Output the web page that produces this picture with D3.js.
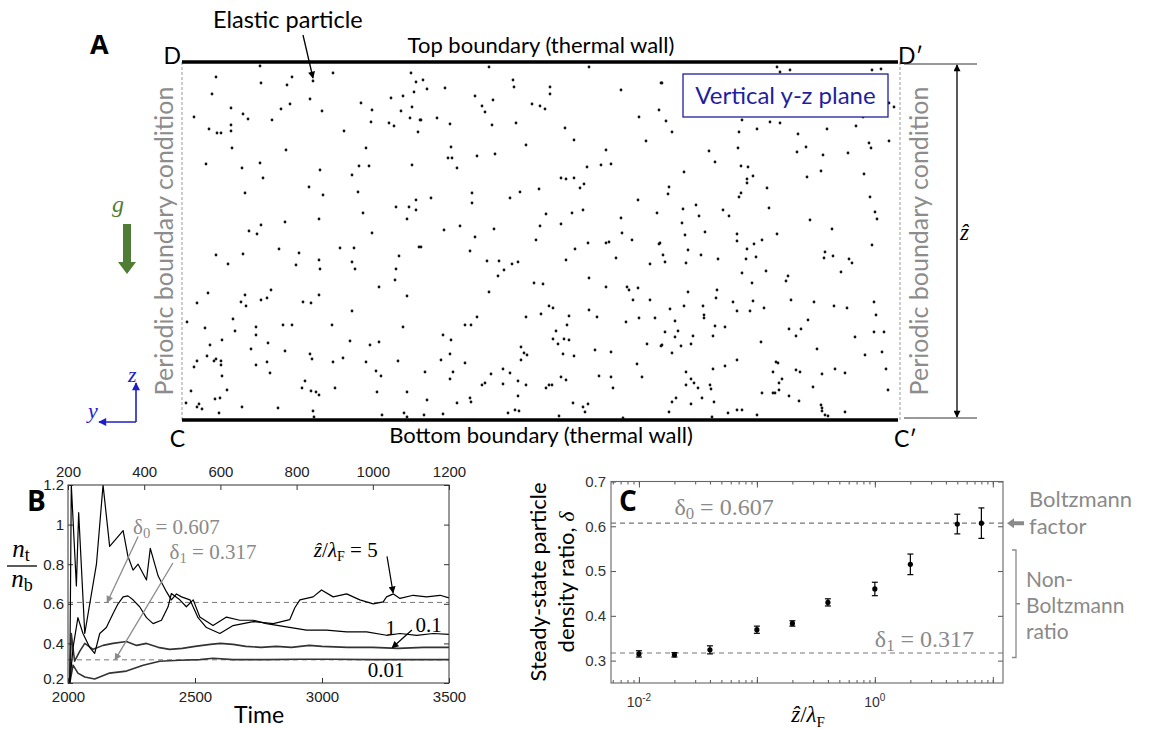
<!DOCTYPE html>
<html>
<head>
<meta charset="utf-8">
<script src="https://cdn.jsdelivr.net/npm/d3@7"></script>
<style>
  body { margin: 0; background: #fff; }
  text { font-family: Lato, "Open Sans", sans-serif; }
  .mtx { font-family: "Liberation Serif", "DejaVu Serif", serif; }
  .tick text { font-family: "Liberation Sans", Arial, sans-serif; }
</style>
</head>
<body>
<svg id="fig" width="1151" height="729"></svg>
<script>
// ---------------- data ----------------

// panel A: particle positions in the y-z box (box is 718 x 358 lattice units)
var particles = [
  [78,354],[34,343],[110,343],[79,337],[105,335],[131,339],[151,347],[229,347],[234,338],[232,328],
  [30,326],[221,324],[209,322],[128,321],[108,316],[99,311],[49,312],[61,306],[66,301],[90,300],
  [140,309],[179,317],[190,310],[189,298],[207,297],[212,294],[219,309],[230,313],[228,302],[238,300],
  [12,303],[27,291],[35,287],[39,287],[49,295],[49,289],[162,289],[236,288],[50,272],[104,270],
  [184,272],[24,256],[60,252],[78,257],[81,242],[138,250],[170,245],[177,254],[187,254],[230,255],
  [127,233],[141,225],[176,228],[63,227],[181,207],[214,213],[227,213],[234,210],[234,220],[225,201],
  [137,201],[103,198],[79,195],[67,189],[75,186],[190,187],[237,173],[34,165],[61,166],[46,156],
  [97,171],[117,167],[114,155],[137,160],[138,151],[158,172],[172,172],[170,158],[173,151],[217,164],
  [214,151],[213,140],[197,133],[225,124],[26,127],[15,117],[63,125],[59,118],[64,114],[79,120],
  [85,122],[89,130],[121,118],[129,117],[137,125],[170,109],[51,101],[53,89],[23,92],[5,98],
  [74,93],[74,85],[101,95],[110,95],[150,95],[221,93],[40,80],[28,75],[86,77],[69,71],
  [103,69],[168,79],[188,75],[197,78],[25,64],[15,59],[12,53],[32,59],[34,61],[39,59],
  [39,55],[74,55],[85,58],[88,47],[128,66],[130,61],[151,58],[161,62],[184,58],[216,59],
  [194,49],[199,44],[40,44],[9,29],[45,30],[33,21],[38,22],[17,16],[15,13],[20,11],
  [4,17],[37,7],[60,13],[96,12],[123,39],[120,32],[129,29],[134,28],[137,25],[153,32],
  [195,28],[225,28],[131,9],[132,3],[200,5],[222,7],[225,3],
  [307,353],[407,353],[241,340],[245,331],[263,332],[331,340],[332,333],[368,333],[368,326],[439,330],
  [479,337],[293,324],[300,314],[303,308],[311,320],[350,316],[358,314],[363,311],[477,310],[457,303],
  [239,300],[255,302],[268,296],[310,295],[334,297],[383,292],[392,280],[464,279],[344,275],[269,273],
  [266,262],[270,262],[275,252],[295,264],[313,266],[424,270],[419,255],[429,256],[405,253],[379,242],
  [384,241],[392,242],[398,232],[402,236],[357,231],[249,222],[290,227],[290,217],[328,222],[338,228],
  [456,220],[475,207],[364,206],[390,207],[401,210],[379,196],[358,194],[439,202],[440,187],[278,194],
  [262,190],[312,191],[293,183],[354,180],[450,180],[477,176],[406,177],[424,177],[427,178],[393,171],
  [288,169],[239,173],[384,160],[434,162],[305,159],[317,159],[322,150],[330,156],[336,158],[316,144],
  [468,156],[407,142],[352,137],[361,136],[307,128],[424,133],[445,133],[447,130],[456,132],[451,120],
  [468,120],[367,114],[371,112],[295,103],[283,95],[289,95],[344,103],[359,106],[387,104],[407,110],
  [415,103],[385,95],[444,98],[457,102],[473,102],[261,85],[269,80],[268,66],[374,89],[371,81],
  [382,81],[387,80],[376,76],[339,73],[342,67],[345,65],[339,60],[381,66],[392,64],[413,70],
  [429,68],[465,76],[479,74],[259,60],[283,57],[243,48],[271,48],[268,41],[309,46],[321,51],
  [328,47],[336,39],[300,35],[303,37],[321,36],[344,35],[364,32],[367,35],[370,35],[379,43],
  [384,40],[417,44],[429,43],[431,32],[455,56],[460,43],[245,20],[275,17],[288,22],[289,18],
  [336,24],[326,7],[333,10],[337,9],[261,6],[242,5],[377,4],[391,17],[401,13],[406,16],
  [403,8],[441,2],
  [595,353],[598,348],[608,350],[690,350],[699,351],[707,317],[712,313],[480,337],[484,299],[490,288],
  [560,300],[588,298],[598,297],[557,288],[575,291],[616,286],[645,291],[674,294],[681,303],[707,279],
  [687,277],[689,272],[527,269],[533,258],[556,272],[615,268],[624,273],[641,265],[666,267],[502,248],
  [559,254],[566,253],[571,244],[565,241],[565,237],[625,243],[639,249],[682,246],[487,233],[486,226],
  [585,232],[557,223],[559,227],[688,223],[514,215],[501,211],[517,204],[541,210],[547,204],[587,212],
  [628,200],[693,208],[695,201],[500,197],[503,185],[523,188],[555,186],[555,179],[580,180],[595,186],
  [650,191],[478,177],[481,165],[483,158],[506,170],[519,165],[504,157],[536,161],[565,171],[572,176],
  [574,163],[564,161],[643,168],[642,162],[651,164],[667,161],[670,157],[690,175],[560,147],[584,149],
  [606,144],[604,139],[659,148],[570,137],[506,128],[535,130],[534,122],[502,114],[521,114],[522,105],
  [522,102],[551,118],[555,109],[568,109],[571,119],[582,112],[609,120],[632,118],[652,114],[665,112],
  [692,118],[694,105],[488,111],[493,99],[483,88],[493,83],[496,89],[511,84],[533,94],[543,93],
  [531,84],[480,75],[490,67],[499,74],[509,76],[579,78],[607,91],[619,91],[614,84],[626,100],
  [635,71],[673,83],[692,88],[702,88],[700,68],[683,65],[504,48],[509,41],[512,37],[504,35],
  [516,32],[528,35],[529,31],[520,22],[531,51],[543,54],[555,60],[532,18],[494,22],[490,18],
  [509,16],[487,8],[530,3],[546,7],[555,10],[560,10],[575,5],[580,27],[591,27],[593,27],
  [591,48],[594,58],[596,57],[600,41],[597,37],[597,30],[607,24],[617,19],[614,50],[618,48],
  [631,33],[640,46],[653,51],[663,47],[639,15],[640,12],[640,9],[643,5],[646,4],[663,8],
  [706,30],[704,51]
];

// panel B: density ratio n_t/n_b vs time, one series per z/lambda_F
var ratio5 = [
  [2007,0.20],[2013,1.20],[2033,0.69],[2042,1.06],[2066,0.45],[2112,0.80],[2138,1.20],[2164,0.89],
  [2217,0.97],[2236,0.84],[2256,0.77],[2276,0.80],[2309,0.72],[2324,0.88],[2355,0.74],[2388,0.66],
  [2407,0.62],[2427,0.65],[2447,0.635],[2480,0.62],[2512,0.53],[2545,0.48],[2598,0.45],[2650,0.49],
  [2729,0.51],[2808,0.50],[2873,0.52],[2893,0.58],[2913,0.62],[2965,0.635],[2998,0.67],[3044,0.635],
  [3097,0.65],[3149,0.62],[3202,0.60],[3241,0.61],[3254,0.635],[3281,0.65],[3307,0.627],[3359,0.643],
  [3412,0.635],[3465,0.643],[3500,0.63]
];
var ratio1 = [
  [2007,0.20],[2020,0.38],[2039,0.53],[2059,0.45],[2085,0.38],[2105,0.35],[2125,0.45],[2151,0.48],
  [2177,0.55],[2197,0.60],[2217,0.635],[2236,0.64],[2256,0.62],[2282,0.585],[2309,0.53],[2335,0.50],
  [2368,0.517],[2394,0.585],[2407,0.652],[2440,0.62],[2466,0.585],[2493,0.62],[2519,0.533],[2571,0.49],
  [2624,0.533],[2676,0.517],[2729,0.517],[2781,0.50],[2860,0.483],[2939,0.467],[3018,0.467],[3097,0.458],
  [3176,0.458],[3254,0.441],[3307,0.45],[3373,0.441],[3438,0.45],[3500,0.446]
];
var ratio01 = [
  [2007,0.20],[2013,0.45],[2026,0.31],[2046,0.36],[2066,0.40],[2099,0.37],[2138,0.39],[2177,0.40],
  [2230,0.41],[2270,0.39],[2309,0.40],[2355,0.38],[2400,0.37],[2450,0.375],[2500,0.385],[2560,0.395],
  [2600,0.40],[2650,0.395],[2700,0.385],[2760,0.38],[2820,0.385],[2880,0.38],[2950,0.39],[3000,0.385],
  [3100,0.38],[3200,0.38],[3300,0.375],[3400,0.38],[3500,0.38]
];
var ratio001 = [
  [2007,0.20],[2020,0.29],[2039,0.25],[2066,0.23],[2105,0.22],[2164,0.25],[2230,0.26],[2296,0.29],
  [2361,0.31],[2440,0.315],[2519,0.318],[2571,0.325],[2650,0.318],[2781,0.318],[2913,0.32],[3044,0.32],
  [3200,0.318],[3350,0.318],[3500,0.318]
];
var timeTicks = [2000, 2500, 3000, 3500];
var topTicks = [200, 400, 600, 800, 1000, 1200];
var ratioTicks = [0.2, 0.4, 0.6, 0.8, 1, 1.2];

// reference ratios
var delta0 = 0.607, delta1 = 0.317;

// panel C: steady-state ratio vs z/lambda_F
var zOverLambda = [0.01, 0.02, 0.04, 0.1, 0.2, 0.4, 1, 2, 5, 8];
var deltaMean   = [0.315, 0.313, 0.324, 0.369, 0.383, 0.43, 0.46, 0.515, 0.605, 0.607];
var deltaErr    = [0.007, 0.005, 0.009, 0.008, 0.006, 0.008, 0.015, 0.023, 0.022, 0.034];
var deltaTicks  = [0.3, 0.4, 0.5, 0.6, 0.7];

// ---------------- drawing ----------------
var svg = d3.select("#fig");
var defs = svg.append("defs");

function marker(id, color, w, h) {
  defs.append("marker").attr("id", id)
    .attr("viewBox", "0 0 10 10").attr("refX", 9).attr("refY", 5)
    .attr("markerWidth", w).attr("markerHeight", h).attr("orient", "auto-start-reverse")
    .attr("markerUnits", "userSpaceOnUse")
    .append("path").attr("d", "M0,0L10,5L0,10z").attr("fill", color);
}
marker("ahBlack", "#000", 9, 7);
marker("ahGray", "#8a8a8a", 9, 7);
marker("ahBlue", "#1e1ec8", 9, 8);

function arrow(g, x1, y1, x2, y2, color, mk, w) {
  return g.append("line").attr("x1", x1).attr("y1", y1).attr("x2", x2).attr("y2", y2)
    .attr("stroke", color).attr("stroke-width", w || 1.2).attr("marker-end", "url(#" + mk + ")");
}

// ===== panel A =====
var gA = svg.append("g");
var xA = d3.scaleLinear().domain([0, 718]).range([182, 900]);
var zA = d3.scaleLinear().domain([0, 358]).range([420, 62]);

// periodic (dashed) side walls
[0, 718].forEach(function (v) {
  gA.append("line").attr("x1", xA(v)).attr("x2", xA(v)).attr("y1", zA(358)).attr("y2", zA(0))
    .attr("stroke", "#9a9a9a").attr("stroke-width", 1).attr("stroke-dasharray", "3,2");
});
// thermal walls
[0, 358].forEach(function (v) {
  gA.append("line").attr("x1", xA(0)).attr("x2", xA(716)).attr("y1", zA(v)).attr("y2", zA(v))
    .attr("stroke", "#000").attr("stroke-width", 3.5);
});

gA.selectAll("circle.p").data(particles).enter().append("circle")
  .attr("class", "p")
  .attr("cx", function (d) { return xA(d[0]); })
  .attr("cy", function (d) { return zA(d[1]); })
  .attr("r", 1.4).attr("fill", "#111");

// labels
gA.append("text").attr("x", 90).attr("y", 54).text("A")
  .style("font-weight", 700).style("font-size", "27px").style("font-family", "'Open Sans', sans-serif");
gA.append("text").attr("x", (xA(0) + xA(718)) / 2).attr("y", 53).attr("text-anchor", "middle")
  .style("font-size", "22px").text("Top boundary (thermal wall)");
gA.append("text").attr("x", (xA(0) + xA(718)) / 2).attr("y", 443).attr("text-anchor", "middle")
  .style("font-size", "22px").text("Bottom boundary (thermal wall)");
gA.append("text").attr("x", xA(0) - 1).attr("y", zA(358) + 2).attr("text-anchor", "end")
  .style("font-size", "23px").text("D");
gA.append("text").attr("x", xA(716)).attr("y", zA(358) + 2)
  .style("font-size", "23px").text("D\u2032");
gA.append("text").attr("x", xA(0) + 3).attr("y", zA(0) + 27).attr("text-anchor", "end")
  .style("font-size", "23px").text("C");
gA.append("text").attr("x", xA(712)).attr("y", zA(0) + 27)
  .style("font-size", "23px").text("C\u2032");

gA.append("text").attr("x", 213).attr("y", 28).style("font-size", "23.5px").text("Elastic particle");
arrow(gA, xA(121), zA(385), xA(131), zA(342), "#000", "ahBlack", 1.3);

// "Vertical y-z plane" box
gA.append("rect").attr("x", 683).attr("y", 74).attr("width", 205).attr("height", 43)
  .attr("fill", "#fff").attr("stroke", "#1f1f9e").attr("stroke-width", 1.3);
gA.append("text").attr("x", 785.5).attr("y", 104).attr("text-anchor", "middle")
  .style("font-size", "24px").style("fill", "#1f1f9e").text("Vertical y-z plane");

// rotated periodic boundary labels
[[173, 241], [928, 241]].forEach(function (p) {
  gA.append("text").attr("transform", "translate(" + p[0] + "," + p[1] + ") rotate(-90)")
    .attr("text-anchor", "middle").style("font-size", "25px").style("fill", "#8c8c8c")
    .text("Periodic boundary condition");
});

// z-hat dimension
[0, 358].forEach(function (v) {
  gA.append("line").attr("x1", 904).attr("x2", 977).attr("y1", zA(v) + (v ? 2 : -2)).attr("y2", zA(v) + (v ? 2 : -2))
    .attr("stroke", "#333").attr("stroke-width", 1);
});
gA.append("line").attr("x1", 957).attr("x2", 957).attr("y1", zA(356) + 1).attr("y2", zA(2) - 1)
  .attr("stroke", "#000").attr("stroke-width", 1.3)
  .attr("marker-start", "url(#ahBlack)").attr("marker-end", "url(#ahBlack)");
gA.append("text").attr("class", "mtx").attr("x", 960).attr("y", 240)
  .style("font-size", "23px").style("font-style", "italic").text("\u1E91");

// gravity arrow
gA.append("path").attr("d", "M123,224 L131,224 L131,262 L136,262 L127,274 L118,262 L123,262 Z")
  .attr("fill", "#4f7d35");
gA.append("text").attr("class", "mtx").attr("x", 112).attr("y", 212)
  .style("font-size", "24px").style("font-style", "italic").style("fill", "#4f7d35").text("g");

// y-z triad
arrow(gA, 136, 422, 136, 383, "#1e1ec8", "ahBlue", 1.6);
arrow(gA, 136, 422, 99, 422, "#1e1ec8", "ahBlue", 1.6);
gA.append("text").attr("class", "mtx").attr("x", 128).attr("y", 382)
  .style("font-size", "22px").style("font-style", "italic").style("fill", "#1e1ec8").text("z");
gA.append("text").attr("class", "mtx").attr("x", 88).attr("y", 418)
  .style("font-size", "22px").style("font-style", "italic").style("fill", "#1e1ec8").text("y");

// ===== panel B =====
var gB = svg.append("g");
var xB = d3.scaleLinear().domain([2000, 3500]).range([68, 449]);
var xBt = d3.scaleLinear().domain([200, 1200]).range([68, 449]);
var yB = d3.scaleLinear().domain([0.2, 1.2]).range([683, 485]);

defs.append("clipPath").attr("id", "clipB").append("rect")
  .attr("x", 68).attr("y", 485).attr("width", 381).attr("height", 198);

function styleAxis(g) {
  g.select(".domain").remove();
  g.selectAll(".tick line").attr("stroke", "#333");
  g.selectAll(".tick text").style("font-size", "15px").attr("fill", "#222");
}
gB.append("g").attr("transform", "translate(0,683)")
  .call(d3.axisBottom(xB).tickValues(timeTicks).tickSize(-5).tickPadding(8).tickFormat(d3.format("d"))).call(styleAxis);
gB.append("g").attr("transform", "translate(0,485)")
  .call(d3.axisTop(xBt).tickValues(topTicks).tickSize(-5).tickPadding(8).tickFormat(d3.format("d"))).call(styleAxis);
var yAxisB = gB.append("g").attr("transform", "translate(68,0)")
  .call(d3.axisLeft(yB).tickValues(ratioTicks).tickSize(-5).tickPadding(4)
    .tickFormat(function (d) { return d3.format("")(d); })).call(styleAxis);
// lift the lowest label a little so it clears the 2000 label
yAxisB.selectAll(".tick").filter(function (d) { return d === 0.2; }).select("text").attr("dy", "0.05em");
gB.append("g").attr("transform", "translate(449,0)")
  .call(d3.axisRight(yB).tickValues(ratioTicks).tickSize(-5).tickFormat("")).call(styleAxis);

// reference dashed lines
[delta0, delta1].forEach(function (v) {
  gB.append("line").attr("x1", xB(2000)).attr("x2", xB(3500)).attr("y1", yB(v)).attr("y2", yB(v))
    .attr("stroke", "#777").attr("stroke-width", 1).attr("stroke-dasharray", "5,4");
});

var lineB = d3.line().x(function (d) { return xB(d[0]); }).y(function (d) { return yB(d[1]); });
var seriesB = [
  { data: ratio001, color: "#333", w: 1.6 },
  { data: ratio01, color: "#333", w: 1.6 },
  { data: ratio1, color: "#000", w: 1.2 },
  { data: ratio5, color: "#000", w: 1.2 }
];
gB.append("g").attr("clip-path", "url(#clipB)").selectAll("path").data(seriesB).enter()
  .append("path").attr("d", function (d) { return lineB(d.data); })
  .attr("fill", "none").attr("stroke", function (d) { return d.color; })
  .attr("stroke-width", function (d) { return d.w; }).attr("stroke-linejoin", "round");

gB.append("rect").attr("x", 68).attr("y", 485).attr("width", 381).attr("height", 198)
  .attr("fill", "none").attr("stroke", "#333").attr("stroke-width", 1);

gB.append("text").attr("x", 27).attr("y", 511).text("B")
  .style("font-weight", 700).style("font-size", "28px").style("font-family", "'Open Sans', sans-serif");
gB.append("text").attr("x", 259).attr("y", 723).attr("text-anchor", "middle")
  .style("font-size", "23px").text("Time");

// n_t / n_b
var frac = gB.append("g").attr("class", "mtx");
var nt = frac.append("text").attr("class", "mtx").attr("x", 21).attr("y", 557).attr("text-anchor", "middle").style("font-size", "25px");
nt.append("tspan").style("font-style", "italic").text("n");
nt.append("tspan").attr("dy", 4).style("font-size", "18px").text("t");
frac.append("line").attr("x1", 7).attr("x2", 37).attr("y1", 566).attr("y2", 566).attr("stroke", "#000").attr("stroke-width", 1.3);
var nb = frac.append("text").attr("class", "mtx").attr("x", 22).attr("y", 587).attr("text-anchor", "middle").style("font-size", "25px");
nb.append("tspan").style("font-style", "italic").text("n");
nb.append("tspan").attr("dy", 4).style("font-size", "18px").text("b");

function deltaLabel(g, x, y, sub, val, size, anchor) {
  var t = g.append("text").attr("class", "mtx").attr("x", x).attr("y", y)
    .attr("text-anchor", anchor || "start").style("font-size", size + "px").style("fill", "#8a8a8a");
  t.append("tspan").text("\u03B4");
  t.append("tspan").attr("dy", 4).style("font-size", (size * 0.7) + "px").text(sub);
  t.append("tspan").attr("dy", -4).text(" = " + val);
  return t;
}
deltaLabel(gB, xB(2256), yB(0.955), "0", "0.607", 21);
deltaLabel(gB, xB(2400), yB(0.825), "1", "0.317", 21);
arrow(gB, xB(2276), yB(0.94), xB(2154), yB(delta0), "#8a8a8a", "ahGray", 1.3);
arrow(gB, xB(2413), yB(0.806), xB(2185), yB(delta1), "#8a8a8a", "ahGray", 1.3);

var lab5 = gB.append("text").attr("class", "mtx").attr("x", xB(2968)).attr("y", yB(0.835)).style("font-size", "21px");
lab5.append("tspan").style("font-style", "italic").text("\u1E91");
lab5.append("tspan").text("/");
lab5.append("tspan").style("font-style", "italic").text("\u03BB");
lab5.append("tspan").attr("dy", 4).style("font-size", "14px").text("F");
lab5.append("tspan").attr("dy", -4).text(" = 5");
arrow(gB, xB(3256), yB(0.84), xB(3280), yB(0.655), "#000", "ahBlack", 1.2);
gB.append("text").attr("class", "mtx").attr("x", xB(3250)).attr("y", yB(0.44)).style("font-size", "21px").text("1");
gB.append("text").attr("class", "mtx").attr("x", xB(3368)).attr("y", yB(0.46)).style("font-size", "21px").text("0.1");
arrow(gB, xB(3354), yB(0.468), xB(3276), yB(0.378), "#000", "ahBlack", 1.2);
gB.append("text").attr("class", "mtx").attr("x", xB(3180)).attr("y", yB(0.23)).style("font-size", "21px").text("0.01");

// ===== panel C =====
var gC = svg.append("g");
var xC = d3.scaleLog().domain([0.0058, 12.2]).range([611, 1003]);
var yC = d3.scaleLinear().domain([0.25, 0.7]).range([683, 481.5]);

var minorC = [];
[0.001, 0.01, 0.1, 1, 10].forEach(function (dec) {
  for (var k = 1; k < 10; k++) {
    var v = dec * k;
    if (v >= 0.0058 && v <= 12.2) minorC.push(v);
  }
});
var majorC = [0.01, 0.1, 1, 10];

function styleC(g) {
  g.select(".domain").remove();
  g.selectAll(".tick line").attr("stroke", "#555");
  g.selectAll(".tick text").style("font-size", "15px").attr("fill", "#333");
}
gC.append("g").attr("transform", "translate(0,683)")
  .call(d3.axisBottom(xC).tickValues(minorC).tickSize(-3).tickFormat("")).call(styleC);
gC.append("g").attr("transform", "translate(0,481.5)")
  .call(d3.axisTop(xC).tickValues(minorC).tickSize(-3).tickFormat("")).call(styleC);
gC.append("g").attr("transform", "translate(0,683)")
  .call(d3.axisBottom(xC).tickValues(majorC).tickSize(-6).tickFormat("")).call(styleC);
gC.append("g").attr("transform", "translate(0,481.5)")
  .call(d3.axisTop(xC).tickValues(majorC).tickSize(-6).tickFormat("")).call(styleC);
gC.append("g").attr("transform", "translate(611,0)")
  .call(d3.axisLeft(yC).tickValues(deltaTicks).tickSize(-5).tickPadding(5).tickFormat(d3.format(".1f"))).call(styleC);
gC.append("g").attr("transform", "translate(1003,0)")
  .call(d3.axisRight(yC).tickValues(deltaTicks).tickSize(-5).tickFormat("")).call(styleC);

// 10^-2 and 10^0 labels
[[0.01, "-2"], [1, "0"]].forEach(function (p) {
  var t = gC.append("text").attr("x", xC(p[0])).attr("y", 707).attr("text-anchor", "middle")
    .style("font-family", "'Liberation Sans', Arial, sans-serif").style("font-size", "14px").attr("fill", "#333");
  t.append("tspan").text("10");
  t.append("tspan").attr("dy", -6).style("font-size", "10px").text(p[1]);
});

[delta0, delta1].forEach(function (v) {
  gC.append("line").attr("x1", 611).attr("x2", 1007).attr("y1", yC(v)).attr("y2", yC(v))
    .attr("stroke", "#777").attr("stroke-width", 1.1).attr("stroke-dasharray", "5,4");
});

var pts = zOverLambda.map(function (z, i) { return { z: z, d: deltaMean[i], e: deltaErr[i] }; });
var gp = gC.append("g").selectAll("g").data(pts).enter().append("g");
gp.append("line").attr("x1", function (d) { return xC(d.z); }).attr("x2", function (d) { return xC(d.z); })
  .attr("y1", function (d) { return yC(d.d - d.e); }).attr("y2", function (d) { return yC(d.d + d.e); })
  .attr("stroke", "#000").attr("stroke-width", 1.2);
[-1, 1].forEach(function (s) {
  gp.append("line").attr("x1", function (d) { return xC(d.z) - 3; }).attr("x2", function (d) { return xC(d.z) + 3; })
    .attr("y1", function (d) { return yC(d.d + s * d.e); }).attr("y2", function (d) { return yC(d.d + s * d.e); })
    .attr("stroke", "#000").attr("stroke-width", 1.2);
});
gp.append("circle").attr("cx", function (d) { return xC(d.z); }).attr("cy", function (d) { return yC(d.d); })
  .attr("r", 2.6).attr("fill", "#000");

gC.append("rect").attr("x", 611).attr("y", 481.5).attr("width", 392).attr("height", 201.5)
  .attr("fill", "none").attr("stroke", "#666").attr("stroke-width", 1.1);

gC.append("text").attr("x", 619).attr("y", 511).text("C")
  .style("font-weight", 700).style("font-size", "28px").style("font-family", "'Open Sans', sans-serif");

deltaLabel(gC, xC(0.02), yC(0.625), "0", "0.607", 24);
deltaLabel(gC, xC(1.0), yC(0.33), "1", "0.317", 24);

// axis titles
var xl = gC.append("text").attr("class", "mtx").attr("x", 808).attr("y", 722).attr("text-anchor", "middle").style("font-size", "23px");
xl.append("tspan").style("font-style", "italic").text("\u1E91");
xl.append("tspan").text("/");
xl.append("tspan").style("font-style", "italic").text("\u03BB");
xl.append("tspan").attr("dy", 5).style("font-size", "15px").text("F");

var yl = gC.append("g").attr("transform", "translate(0,582)");
yl.append("text").attr("transform", "translate(546,0) rotate(-90)").attr("text-anchor", "middle")
  .style("font-size", "22px").text("Steady-state particle");
var yl2 = yl.append("text").attr("transform", "translate(574,0) rotate(-90)").attr("text-anchor", "middle")
  .style("font-size", "22px");
yl2.append("tspan").text("density ratio, ");
yl2.append("tspan").attr("class", "mtx").style("font-family", "'Liberation Serif', serif").style("font-style", "italic").text("\u03B4");

// right-side notes
var gray = "#8a8a8a";
gC.append("text").attr("x", 1029).attr("y", 507).style("font-size", "22px").style("fill", gray).text("Boltzmann");
gC.append("text").attr("x", 1029).attr("y", 534).style("font-size", "22px").style("fill", gray).text("factor");
gC.append("path").attr("d", "M1024," + (yC(delta0) - 2) + " L1014," + (yC(delta0) - 2) + " L1014," + (yC(delta0) - 5) +
  " L1007," + yC(delta0) + " L1014," + (yC(delta0) + 5) + " L1014," + (yC(delta0) + 2) + " L1024," + (yC(delta0) + 2) + " Z")
  .attr("fill", gray);
var by0 = yC(0.547), by1 = yC(0.307), bym = (by0 + by1) / 2;
gC.append("path").attr("d", "M1012," + by0 + " H1016 V" + by1 + " H1012 M1016," + bym + " H1020")
  .attr("fill", "none").attr("stroke", gray).attr("stroke-width", 1.3);
gC.append("text").attr("x", 1026).attr("y", 587).style("font-size", "21px").style("fill", gray).text("Non-");
gC.append("text").attr("x", 1026).attr("y", 613).style("font-size", "21px").style("fill", gray).text("Boltzmann");
gC.append("text").attr("x", 1026).attr("y", 639).style("font-size", "21px").style("fill", gray).text("ratio");
</script>
</body>
</html>
